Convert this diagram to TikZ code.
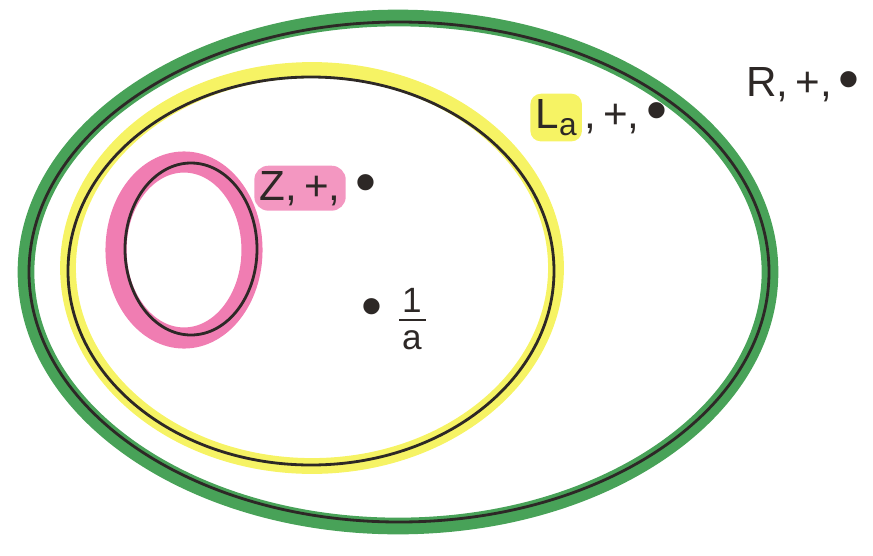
\documentclass[tikz,border=0pt]{standalone}
\usepackage{fontspec}
\setmainfont{Liberation Sans}
\usepackage{tikz}
\usetikzlibrary{positioning}
\definecolor{penGreen}{RGB}{72,162,88}
\definecolor{penYellow}{RGB}{246,243,100}
\definecolor{penPink}{RGB}{240,125,178}
\definecolor{penInk}{RGB}{45,40,38}
\newcommand{\bigdot}{{\fontsize{34}{34}\selectfont\raisebox{-0.08ex}{•}}}
\begin{document}
\begin{tikzpicture}[x=0.02cm,y=-0.02cm,
  ink/.style={draw=penInk,line width=1.6pt},
  lbl/.style={text=penInk,inner sep=1pt,font=\fontsize{24}{28}\selectfont},
  frc/.style={text=penInk,inner sep=0pt,font=\fontsize{20}{22}\selectfont},
  hly/.style={fill=penYellow,rounded corners=6pt,inner sep=3pt},
  hlp/.style={fill=penPink!80,rounded corners=8pt,inner sep=3pt}]
\useasboundingbox (0,0) rectangle (873,555);
% outer set
\draw[penGreen,line width=9.5pt] (398,272) ellipse [x radius=372, y radius=254];
\draw[ink] (399,272) ellipse [x radius=370, y radius=250];
% middle set
\draw[penYellow,line width=9pt] (312,268) ellipse [x radius=244, y radius=198];
\draw[ink] (311,271) ellipse [x radius=243, y radius=194];
% inner set
\draw[penPink,line width=12pt] (184,250) ellipse [x radius=68, y radius=88];
\draw[ink] (191,249) ellipse [x radius=66, y radius=86];
% labels
\node[lbl] (r) at (803,85) {R,\,+,\,\bigdot};
\node[lbl,hly,anchor=base west] (la) at (530,128) {L\raisebox{-0.35ex}{\fontsize{18}{20}\selectfont a}};
\node[lbl,anchor=base west] (laops) at (la.base east) {,\,+,\,\bigdot};
\node[lbl,hlp,anchor=base west] (z) at (254,200) {Z,\,+,};
\node[lbl,anchor=base west] (zdot) at (z.base east) {\,\bigdot};
\node[lbl,inner sep=0pt] (dot) at (372,313) {\bigdot};
% the fraction 1/a
\node[frc] (num) at (412,300) {1};
\node[frc] (den) at (412,340) {a};
\coordinate (barl) at (399,320);
\coordinate (barr) at (426,320);
\draw[penInk,line width=1.2pt] (barl) -- (barr);
\end{tikzpicture}
\end{document}
